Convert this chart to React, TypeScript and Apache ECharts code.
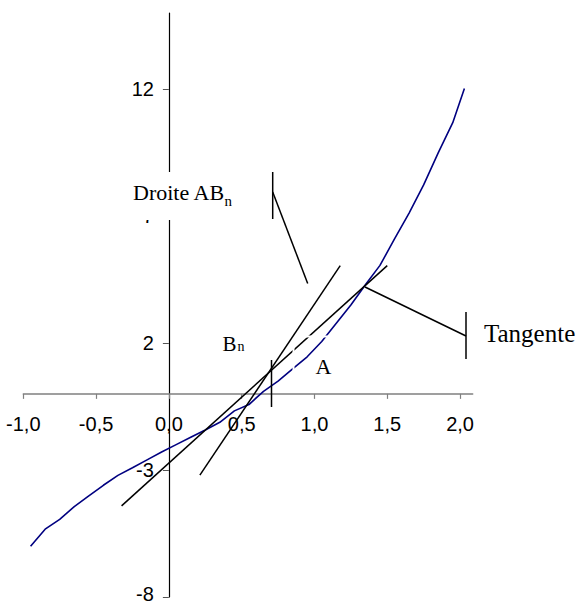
import React, { useEffect, useRef } from "react";
import * as echarts from "echarts";

// f(x) sampled along the curve
const curveX = [-0.95, -0.85, -0.75, -0.65, -0.55, -0.45, -0.35, -0.25, -0.15, -0.05, 0.05, 0.15, 0.25, 0.35, 0.45, 0.55, 0.65, 0.75, 0.85, 0.95, 1.05, 1.15, 1.25, 1.35, 1.45, 1.55, 1.65, 1.75, 1.85, 1.95, 2.03];
const curveY = [-6.0, -5.33, -4.94, -4.44, -4.02, -3.6, -3.21, -2.91, -2.6, -2.29, -2.0, -1.71, -1.42, -1.12, -0.67, -0.42, 0.1, 0.5, 0.98, 1.46, 2.06, 2.78, 3.5, 4.3, 5.06, 6.1, 7.12, 8.23, 9.49, 10.68, 12.03];

// secant through B_n (steeper line)
const secantX = [0.213, 1.177];
const secantY = [-3.2, 5.05];

// line through A and B_n
const tangentX = [-0.325, 1.5];
const tangentY = [-4.41, 5.05];

const xTicks = [-1, -0.5, 0, 0.5, 1, 1.5, 2];
const yTicks = [-8, -3, 2, 7, 12];

const X_MIN = -1;
const X_MAX = 2.087;
const Y_MIN = -8;
const Y_MAX = 15;

const pairs = (xs: number[], ys: number[]) => xs.map((x, i) => [x, ys[i]]);

export default function App() {
  const ref = useRef<HTMLDivElement>(null);

  useEffect(() => {
    if (!ref.current) return;
    const chart = echarts.init(ref.current, undefined, { renderer: "svg" });
    const serif = "'Liberation Serif', 'Times New Roman', serif";
    const sans = "'Liberation Sans', Arial, sans-serif";
    const black = "#000";
    const callout = { stroke: black, lineWidth: 1.5 };

    const W = 581;
    const H = 603;
    const grid = { left: 23.3, right: 108.3, top: 13, bottom: 6 };
    const plotW = W - grid.left - grid.right;
    const plotH = H - grid.top - grid.bottom;
    // axes cross at the origin: shift each axis from the grid edge to zero
    const xAxisOffset = -((0 - Y_MIN) / (Y_MAX - Y_MIN)) * plotH;
    const yAxisOffset = -((0 - X_MIN) / (X_MAX - X_MIN)) * plotW;

    chart.setOption({
      animation: false,
      backgroundColor: "#fff",
      grid: { ...grid, containLabel: false, outerBoundsMode: "none" },
      xAxis: {
        type: "value",
        min: X_MIN,
        max: X_MAX,
        position: "bottom",
        offset: xAxisOffset,
        splitLine: { show: false },
        axisLine: { onZero: false, lineStyle: { color: "#808080", width: 1.5 } },
        axisTick: { show: true, length: 5, customValues: xTicks, lineStyle: { color: "#808080", width: 1.2 } },
        axisLabel: {
          customValues: xTicks,
          margin: 20,
          fontSize: 20,
          fontFamily: sans,
          color: black,
          formatter: (v: number) => v.toFixed(1).replace(".", ","),
        },
      },
      yAxis: {
        type: "value",
        min: Y_MIN,
        max: Y_MAX,
        position: "left",
        offset: yAxisOffset,
        splitLine: { show: false },
        axisLine: { onZero: false, lineStyle: { color: black, width: 1.2 } },
        axisTick: { show: true, length: 6, customValues: yTicks, lineStyle: { color: "#555", width: 1 } },
        axisLabel: {
          customValues: yTicks,
          margin: 15,
          fontSize: 20,
          fontFamily: sans,
          color: black,
          // the lowest label sits slightly above its tick, at the chart's bottom edge
          formatter: (v: number) => (v === Y_MIN ? `{low|${v}}` : String(v)),
          rich: {
            low: { fontSize: 20, fontFamily: sans, color: black, padding: [0, 0, 7, 0] },
          },
        },
      },
      series: [
        {
          type: "line",
          data: pairs(curveX, curveY),
          showSymbol: false,
          symbol: "none",
          silent: true,
          lineStyle: { color: "#000080", width: 1.6 },
          z: 3,
        },
        {
          type: "line",
          data: pairs(secantX, secantY),
          showSymbol: false,
          symbol: "none",
          silent: true,
          lineStyle: { color: black, width: 1.5 },
          z: 4,
        },
        {
          type: "line",
          data: pairs(tangentX, tangentY),
          showSymbol: false,
          symbol: "none",
          silent: true,
          lineStyle: { color: black, width: 1.5 },
          z: 4,
        },
      ],
      graphic: [
        // label box for "Droite AB_n"
        { type: "rect", z: 99, shape: { x: 120, y: 172, width: 125, height: 48 }, style: { fill: "#fff" } },
        { type: "text", z: 100, x: 133, y: 192, style: { text: "Droite AB", fontSize: 22, fontFamily: serif, fill: black, verticalAlign: "middle" } },
        { type: "text", z: 100, x: 224.5, y: 200.5, style: { text: "n", fontSize: 15, fontFamily: serif, fill: black, verticalAlign: "middle" } },
        { type: "line", z: 100, shape: { x1: 272.7, y1: 172, x2: 272.7, y2: 219 }, style: callout },
        { type: "line", z: 100, shape: { x1: 272.7, y1: 192, x2: 307.7, y2: 283.5 }, style: callout },

        // "Tangente" callout
        { type: "text", z: 100, x: 484, y: 333, style: { text: "Tangente", fontSize: 25, fontFamily: serif, fill: black, verticalAlign: "middle" } },
        { type: "line", z: 100, shape: { x1: 466, y1: 312, x2: 466, y2: 359 }, style: callout },
        { type: "line", z: 100, shape: { x1: 466, y1: 336, x2: 365, y2: 287 }, style: callout },

        // B_n marker and label
        { type: "line", z: 100, shape: { x1: 271.5, y1: 360, x2: 271.5, y2: 407 }, style: callout },
        { type: "text", z: 100, x: 222.5, y: 343.7, style: { text: "B", fontSize: 21, fontFamily: serif, fill: black, verticalAlign: "middle" } },
        { type: "text", z: 100, x: 237.5, y: 346, style: { text: "n", fontSize: 14, fontFamily: serif, fill: black, verticalAlign: "middle" } },

        // A label and its (white) frame edges
        { type: "line", z: 98, shape: { x1: 293.5, y1: 340, x2: 293.5, y2: 374 }, style: { stroke: "#fff", lineWidth: 2 } },
        { type: "line", z: 98, shape: { x1: 298, y1: 336.5, x2: 332, y2: 336.5 }, style: { stroke: "#fff", lineWidth: 2 } },
        { type: "text", z: 100, x: 315.5, y: 366.3, style: { text: "A", fontSize: 22, fontFamily: serif, fill: black, verticalAlign: "middle" } },
      ],
    });

    return () => chart.dispose();
  }, []);

  return (
    <div
      ref={ref}
      style={{ position: "fixed", left: 0, top: 0, width: 581, height: 603, background: "#fff" }}
    />
  );
}
